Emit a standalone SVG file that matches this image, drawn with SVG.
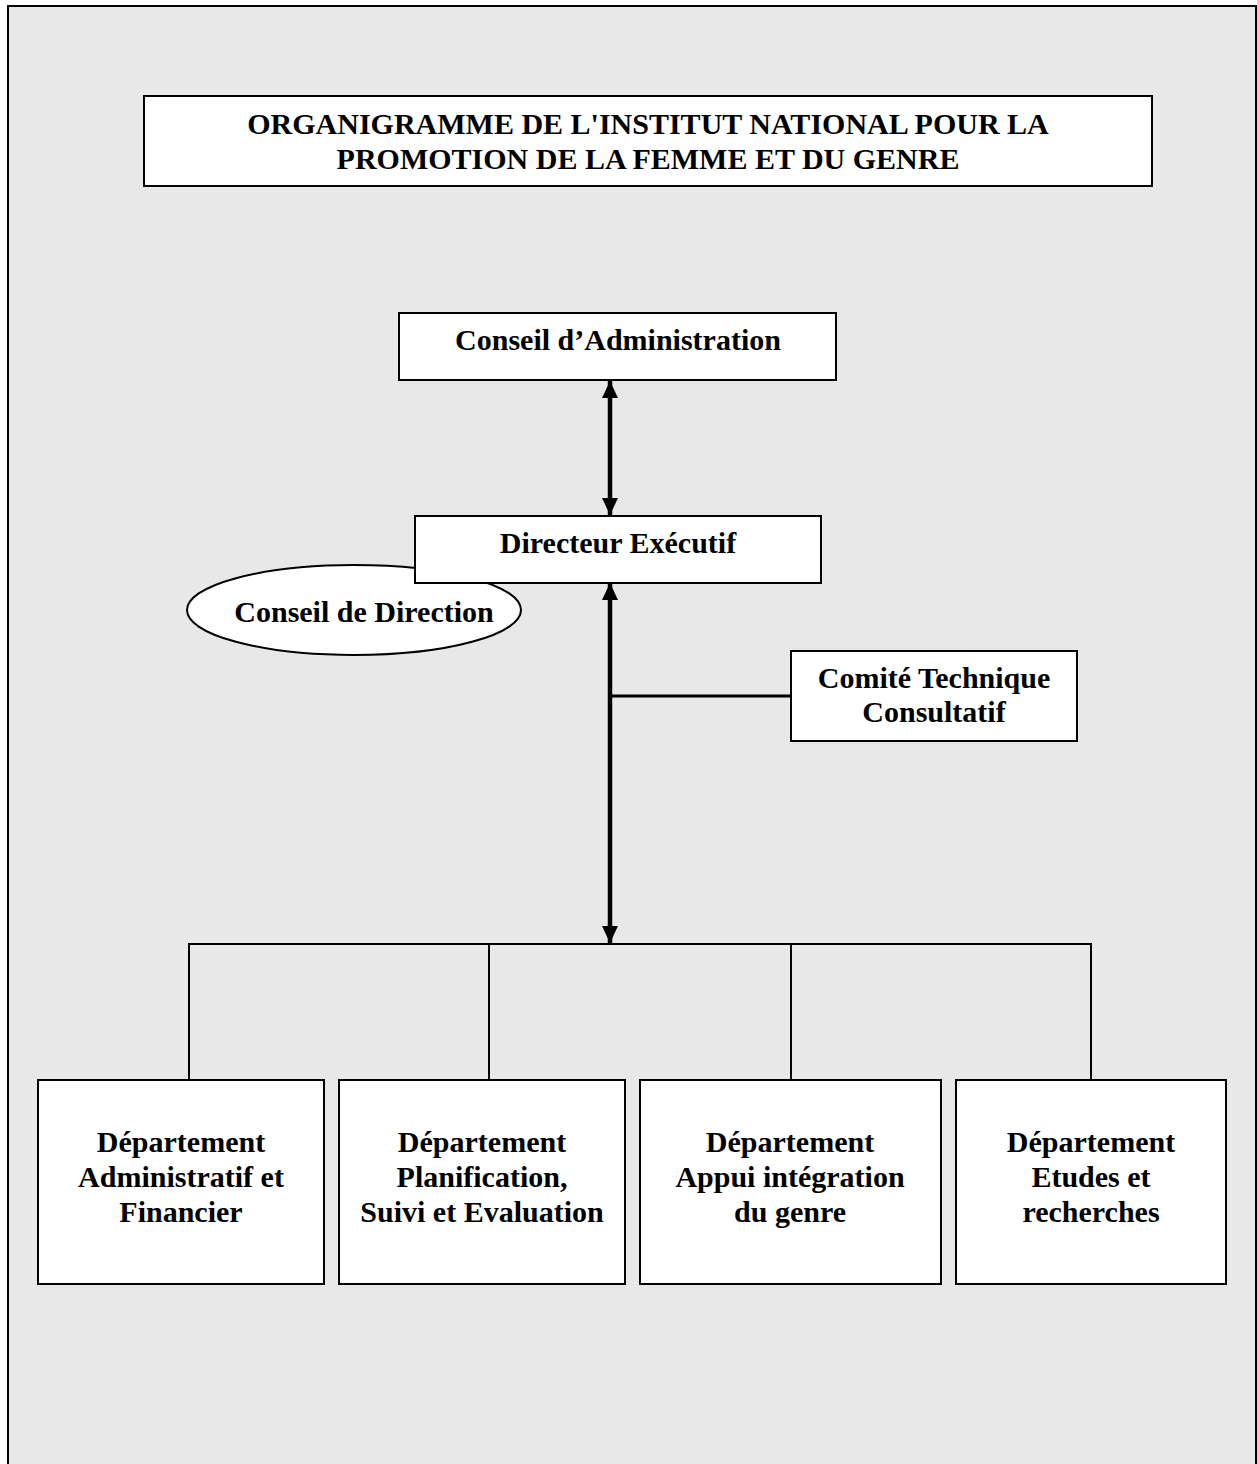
<svg xmlns="http://www.w3.org/2000/svg" width="1257" height="1464" viewBox="0 0 1257 1464">
<style>
.box{fill:#ffffff;stroke:#000000;stroke-width:2}
.t{font-family:"Liberation Serif","Times New Roman",serif;font-weight:bold;font-size:30px;fill:#000000;text-anchor:middle}
.thin{stroke:#000000;stroke-width:2;fill:none}
.thick{stroke:#000000;stroke-width:4.5;fill:none}
.mid{stroke:#000000;stroke-width:3;fill:none}
</style>
<defs>
<marker id="ah" viewBox="0 0 17 16" refX="17" refY="8" markerWidth="17" markerHeight="16" markerUnits="userSpaceOnUse" orient="auto-start-reverse">
<path d="M0,0 L17,8 L0,16 Z" fill="#000000"/>
</marker>
</defs>
<rect x="8" y="6" width="1248" height="1470" fill="#e8e8e8" stroke="#000000" stroke-width="2"/>

<g id="connectors">
<line class="thick" x1="610" y1="381" x2="610" y2="515" marker-start="url(#ah)" marker-end="url(#ah)"/>
<line class="thick" x1="610" y1="583" x2="610" y2="943" marker-start="url(#ah)" marker-end="url(#ah)"/>
<line class="mid" x1="612" y1="696" x2="791" y2="696"/>
<polyline class="thin" points="189,1080 189,944 1091,944 1091,1080"/>
<line class="thin" x1="489" y1="944" x2="489" y2="1080"/>
<line class="thin" x1="791" y1="944" x2="791" y2="1080"/>
</g>

<g id="title">
<rect class="box" x="144" y="96" width="1008" height="90"/>
<text class="t" x="648" y="134">ORGANIGRAMME DE L'INSTITUT NATIONAL POUR LA</text>
<text class="t" x="648" y="169">PROMOTION DE LA FEMME ET DU GENRE</text>
</g>

<g id="conseil-administration">
<rect class="box" x="399" y="313" width="437" height="67"/>
<text class="t" x="618" y="350">Conseil d’Administration</text>
</g>

<g id="conseil-direction">
<ellipse cx="354" cy="610" rx="167" ry="45" fill="#ffffff" stroke="#000000" stroke-width="2"/>
<text class="t" x="364" y="622">Conseil de Direction</text>
</g>

<g id="directeur-executif">
<rect class="box" x="415" y="516" width="406" height="67"/>
<text class="t" x="618" y="553">Directeur Exécutif</text>
</g>

<g id="comite-technique">
<rect class="box" x="791" y="651" width="286" height="90"/>
<text class="t" x="934" y="688">Comité Technique</text>
<text class="t" x="934" y="722">Consultatif</text>
</g>

<g id="dept-administratif">
<rect class="box" x="38" y="1080" width="286" height="204"/>
<text class="t" x="181" y="1152">Département</text>
<text class="t" x="181" y="1187">Administratif et</text>
<text class="t" x="181" y="1222">Financier</text>
</g>

<g id="dept-planification">
<rect class="box" x="339" y="1080" width="286" height="204"/>
<text class="t" x="482" y="1152">Département</text>
<text class="t" x="482" y="1187">Planification,</text>
<text class="t" x="482" y="1222">Suivi et Evaluation</text>
</g>

<g id="dept-appui">
<rect class="box" x="640" y="1080" width="301" height="204"/>
<text class="t" x="790" y="1152">Département</text>
<text class="t" x="790" y="1187">Appui intégration</text>
<text class="t" x="790" y="1222">du genre</text>
</g>

<g id="dept-etudes">
<rect class="box" x="956" y="1080" width="270" height="204"/>
<text class="t" x="1091" y="1152">Département</text>
<text class="t" x="1091" y="1187">Etudes et</text>
<text class="t" x="1091" y="1222">recherches</text>
</g>
</svg>
